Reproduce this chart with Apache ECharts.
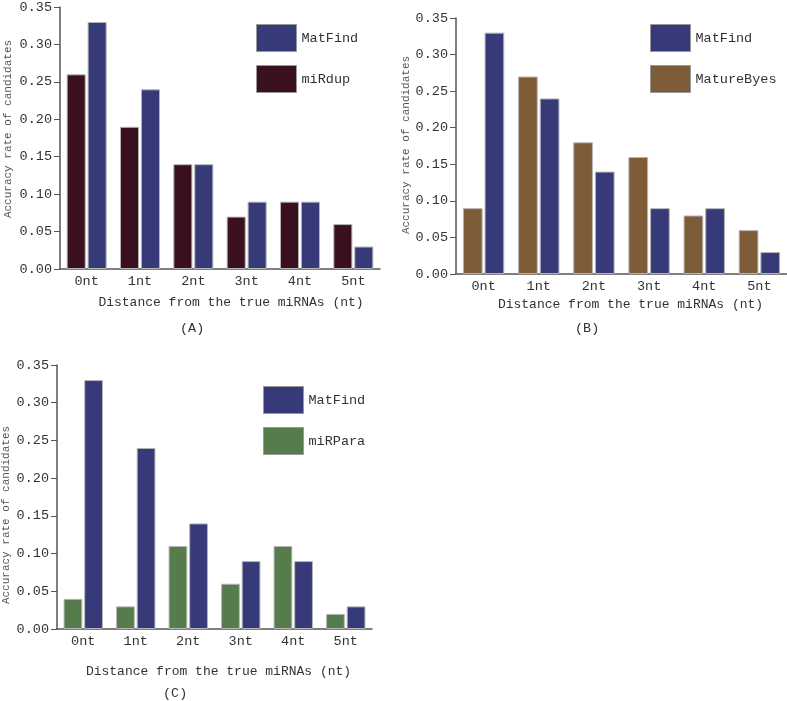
<!DOCTYPE html>
<html><head><meta charset="utf-8">
<script src="https://cdn.jsdelivr.net/npm/echarts@6/dist/echarts.min.js"></script>
<style>html,body{margin:0;padding:0;background:#fff}#c{width:787px;height:701px}</style>
</head><body><div id="c"></div>
<script>
const categories = ['0nt','1nt','2nt','3nt','4nt','5nt'];
const matFind = [0.33,0.24,0.14,0.09,0.09,0.03];
const miRdup = [0.26,0.19,0.14,0.07,0.09,0.06];
const matureByes = [0.09,0.27,0.18,0.16,0.08,0.06];
const miRPara = [0.04,0.03,0.11,0.06,0.11,0.02];
const yTicks = [0,0.05,0.10,0.15,0.20,0.25,0.30,0.35];
const xTitle = 'Distance from the true miRNAs (nt)';
const yTitle = 'Accuracy rate of candidates';
const captions = ['(A)','(B)','(C)'];

const C_MAT = '#363a78', C_DUP = '#3a1021', C_BYES = '#7d5c37', C_PARA = '#557c4a';
const FONT = 'Liberation Mono';
const chart = echarts.init(document.getElementById('c'));

const grids = [
  {left:60, top:5, width:320, height:264},
  {left:456, top:18, width:331, height:256},
  {left:57, top:365, width:315, height:264}
];
const titleGap = [27, 24, 36];
const titleShift = [22, 18, 8];
const yNameGap = [46, 41, 45];
const yNamePad = [[0,0,0,18],[0,0,0,2],[0,36,0,0]];

function xAxis(i){
  return {type:'category', gridIndex:i, data:categories,
    axisLine:{lineStyle:{color:'#555', width:1.5}},
    axisTick:{inside:true, length:5, lineStyle:{color:'#555'}},
    axisLabel:{color:'#333', fontFamily:FONT, fontSize:13.5, margin:5},
    name:xTitle, nameLocation:'middle', nameGap:titleGap[i],
    nameTextStyle:{color:'#333', fontFamily:FONT, fontSize:13, padding:[0,0,0,titleShift[i]]}};
}
function yAxis(i){
  return {type:'value', gridIndex:i, min:yTicks[0], max:yTicks[yTicks.length-1], interval:0.05,
    axisLine:{show:true, lineStyle:{color:'#555', width:1.5}},
    axisTick:{show:true, length:6, lineStyle:{color:'#555'}},
    splitLine:{show:false},
    axisLabel:{color:'#333', fontFamily:FONT, fontSize:13.5, margin:8, formatter:v=>v.toFixed(2)},
    name:yTitle, nameLocation:'middle', nameRotate:90, nameGap:yNameGap[i],
    nameTextStyle:{color:'#555', fontFamily:FONT, fontSize:11, padding:yNamePad[i]}};
}
function bar(name, data, color, i){
  return {type:'bar', name, data, xAxisIndex:i, yAxisIndex:i,
    barCategoryGap:'25%', barGap:'10%',
    itemStyle:{color, borderColor:'#b5b5b5', borderWidth:1}};
}
function legend(names, left, top){
  return {orient:'vertical', left, top, padding:0, data:names, icon:'rect', itemWidth:40, itemHeight:27, itemGap:13,
    textStyle:{color:'#333', fontFamily:FONT, fontSize:13.5},
    itemStyle:{borderColor:'#999', borderWidth:1}, selectedMode:false};
}

chart.setOption({
  animation:false,
  grid:grids,
  xAxis:[0,1,2].map(xAxis),
  yAxis:[0,1,2].map(yAxis),
  legend:[
    legend(['MatFind','miRdup'], 256, 24),
    legend(['MatFind','MatureByes'], 650, 24),
    legend(['MatFind','miRPara'], 263, 386)
  ],
  series:[
    bar('miRdup', miRdup, C_DUP, 0),
    bar('MatFind', matFind, C_MAT, 0),
    bar('MatureByes', matureByes, C_BYES, 1),
    bar('MatFind', matFind, C_MAT, 1),
    bar('miRPara', miRPara, C_PARA, 2),
    bar('MatFind', matFind, C_MAT, 2)
  ],
  graphic:[
    {type:'text', left:180, top:321, style:{text:captions[0], font:'13.5px "Liberation Mono"', fill:'#333'}},
    {type:'text', left:575, top:321, style:{text:captions[1], font:'13.5px "Liberation Mono"', fill:'#333'}},
    {type:'text', left:163, top:686, style:{text:captions[2], font:'13.5px "Liberation Mono"', fill:'#333'}}
  ]
});
</script></body></html>
